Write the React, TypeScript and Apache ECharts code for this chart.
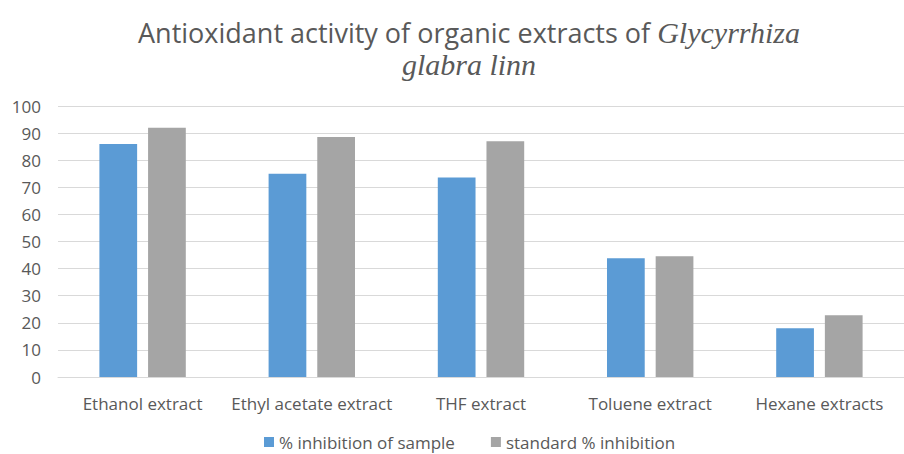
import React, { useEffect, useRef } from "react";
import * as echarts from "echarts";

const categories = ["Ethanol extract", "Ethyl acetate extract", "THF extract", "Toluene extract", "Hexane extracts"];
const sampleInhibition = [86, 75, 73.6, 43.8, 18];
const standardInhibition = [92, 88.6, 87, 44.6, 22.8];
const seriesNames = ["% inhibition of sample", "standard % inhibition"];

export default function App() {
  const ref = useRef<HTMLDivElement>(null);
  useEffect(() => {
    const chart = echarts.init(ref.current!, null, { renderer: "svg" });
    const textColor = "#595959";
    chart.setOption({
      animation: false,
      backgroundColor: "#ffffff",
      graphic: [
        {
          type: "text",
          x: 469,
          y: 32,
          style: {
            text: "{n|Antioxidant activity of organic extracts of }{i|Glycyrrhiza}",
            align: "center",
            verticalAlign: "middle",
            rich: {
              n: { fontFamily: "Open Sans", fontSize: 27, fill: textColor },
              i: { fontFamily: "Liberation Serif", fontStyle: "italic", fontSize: 30, fill: textColor },
            },
          },
        },
        {
          type: "text",
          x: 469,
          y: 64,
          style: {
            text: "glabra linn",
            align: "center",
            verticalAlign: "middle",
            fontFamily: "Liberation Serif",
            fontStyle: "italic",
            fontSize: 30,
            fill: textColor,
          },
        },
      ],
      legend: {
        data: seriesNames,
        top: 427,
        left: 259,
        itemWidth: 10,
        itemHeight: 10,
        itemGap: 36,
        icon: "rect",
        textStyle: { fontFamily: "Open Sans", fontSize: 17, color: textColor, lineHeight: 20 },
      },
      grid: { left: 58, top: 106, width: 856, bottom: 77, containLabel: false },
      xAxis: {
        type: "category",
        data: categories,
        axisTick: { show: false },
        axisLine: { lineStyle: { color: "#D9D9D9", width: 1 } },
        axisLabel: { fontFamily: "Open Sans", fontSize: 17, color: textColor, margin: 18, interval: 0 },
      },
      yAxis: {
        type: "value",
        min: 0,
        max: 100,
        interval: 10,
        axisLine: { show: false },
        axisTick: { show: false },
        splitLine: { lineStyle: { color: "#D9D9D9", width: 1 } },
        axisLabel: { fontFamily: "Open Sans", fontSize: 17, color: textColor, margin: 17 },
      },
      series: [
        {
          name: seriesNames[0],
          type: "bar",
          data: sampleInhibition,
          barWidth: "22.3%",
          barGap: "29%",
          itemStyle: { color: "#5B9BD5" },
        },
        {
          name: seriesNames[1],
          type: "bar",
          data: standardInhibition,
          barWidth: "22.3%",
          barGap: "29%",
          itemStyle: { color: "#A5A5A5" },
        },
      ],
    });
    return () => chart.dispose();
  }, []);
  return <div ref={ref} style={{ width: 904, height: 454, position: "absolute", left: 0, top: 0 }} />;
}
